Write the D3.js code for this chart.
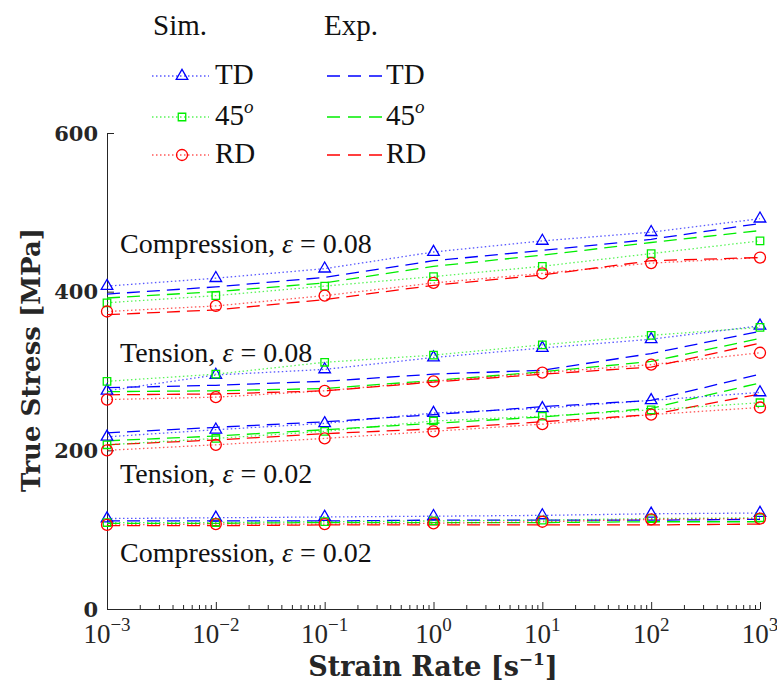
<!DOCTYPE html>
<html><head><meta charset="utf-8">
<script src="https://cdn.jsdelivr.net/npm/d3@7"></script>
<style>body{margin:0;background:#fff} svg{display:block}</style>
</head><body><svg id="c" width="777" height="689"></svg>
<script>
// ---- data ----
const strainRates = [1e-3, 1e-2, 1e-1, 1e0, 1e1, 1e2, 1e3];
const xTickExponents = [-3, -2, -1, 0, 1, 2, 3];
const yTicks = [0, 200, 400, 600];
const orientations = ["TD", "45", "RD"];

// Compression, eps = 0.08
const simTD_C08 = [407, 417, 429, 450, 464, 475, 492];
const expTD_C08 = [397, 406, 418, 439, 452, 466, 486];
const sim45_C08 = [386, 395, 407, 419, 432, 448, 464];
const exp45_C08 = [392, 400, 411, 432, 446, 462, 477];
const simRD_C08 = [375, 382, 395, 411, 423, 436, 443];
const expRD_C08 = [371, 377, 390, 408, 421, 439, 443];
// Tension, eps = 0.08
const simTD_T08 = [275, 295, 302, 317, 329, 340, 357];
const expTD_T08 = [279, 282, 287, 296, 301, 322, 350];
const sim45_T08 = [287, 296, 311, 320, 333, 345, 355];
const exp45_T08 = [274, 275, 278, 288, 299, 312, 341];
const simRD_T08 = [264, 267, 275, 287, 298, 308, 323];
const expRD_T08 = [270, 271, 275, 286, 296, 305, 335];
// Tension, eps = 0.02
const simTD_T02 = [217, 226, 234, 247, 253, 263, 273];
const expTD_T02 = [222, 229, 236, 245, 255, 263, 296];
const sim45_T02 = [207, 215, 224, 237, 243, 251, 260];
const exp45_T02 = [212, 218, 226, 234, 242, 253, 285];
const simRD_T02 = [200, 207, 215, 224, 233, 245, 254];
const expRD_T02 = [207, 213, 221, 227, 236, 245, 271];
// Compression, eps = 0.02
const simTD_C02 = [114, 115, 116, 117, 118, 120, 121];
const expTD_C02 = [111, 111, 111, 112, 112, 112, 113];
const sim45_C02 = [109, 109, 110, 111, 112, 114, 115];
const exp45_C02 = [108, 108, 109, 109, 109, 110, 110];
const simRD_C02 = [106, 107, 107, 108, 110, 113, 114];
const expRD_C02 = [105, 105, 106, 106, 106, 106, 107];

const annotations = [
  {pre: "Compression, ", post: " = 0.08", x: 1.32e-3, v: 449},
  {pre: "Tension, ", post: " = 0.08", x: 1.32e-3, v: 311},
  {pre: "Tension, ", post: " = 0.02", x: 1.32e-3, v: 159},
  {pre: "Compression, ", post: " = 0.02", x: 1.32e-3, v: 59}
];

// ---- build series ----
const simSeries = [
  {o: "TD", vals: [simTD_C08, simTD_T08, simTD_T02, simTD_C02]},
  {o: "45", vals: [sim45_C08, sim45_T08, sim45_T02, sim45_C02]},
  {o: "RD", vals: [simRD_C08, simRD_T08, simRD_T02, simRD_C02]}
];
const expSeries = [
  {o: "TD", vals: [expTD_C08, expTD_T08, expTD_T02, expTD_C02]},
  {o: "45", vals: [exp45_C08, exp45_T08, exp45_T02, exp45_C02]},
  {o: "RD", vals: [expRD_C08, expRD_T08, expRD_T02, expRD_C02]}
];
const color = {TD: "#0000ff", "45": "#00ee00", RD: "#ff0000"};
const symType = {TD: d3.symbolTriangle, "45": d3.symbolSquare, RD: d3.symbolCircle};
const symSize = {TD: 58, "45": 56, RD: 95};

const svg = d3.select("#c");
const x = d3.scaleLog().domain([1e-3, 1e3]).range([107, 760]);
const y = d3.scaleLinear().domain([0, 600]).range([609, 133]);
const serif = "'Liberation Serif', 'Times New Roman', serif";
const boldSerif = "'DejaVu Serif', serif";
const axisColor = "#262626";

// ---- axes ----
const minorTicks = [];
for (let e = -3; e < 3; e++) for (let k = 2; k <= 9; k++) minorTicks.push(k * Math.pow(10, e));

const gx = svg.append("g").attr("transform", "translate(0,609)");
gx.call(d3.axisBottom(x).tickValues(strainRates).tickSize(-7).tickSizeOuter(0).tickFormat(""));
gx.append("g").call(d3.axisBottom(x).tickValues(minorTicks).tickSize(-4).tickSizeOuter(0).tickFormat(""))
  .select(".domain").remove();
gx.selectAll("path,line").attr("stroke", axisColor).attr("stroke-width", 1);

const gy = svg.append("g").attr("transform", "translate(107,0)");
gy.call(d3.axisLeft(y).tickValues(yTicks).tickSize(-7).tickSizeOuter(0).tickFormat(""));
gy.selectAll("path,line").attr("stroke", axisColor).attr("stroke-width", 1);

// x tick labels
strainRates.forEach((r, i) => {
  const t = svg.append("text").attr("x", x(r)).attr("y", 643)
    .attr("text-anchor", "middle").attr("font-family", serif).attr("font-size", 27).attr("fill", "#262626");
  t.append("tspan").text("10");
  const ex = xTickExponents[i];
  t.append("tspan").attr("dy", -12).attr("font-size", 19).text(ex < 0 ? "\u2212" + (-ex) : String(ex));
});
// y tick labels
yTicks.forEach(v => {
  svg.append("text").attr("x", 98).attr("y", y(v)).attr("dy", "0.36em")
    .attr("text-anchor", "end").attr("font-family", boldSerif).attr("font-weight", "bold")
    .attr("font-size", 21).attr("fill", "#262626").text(v);
});
// axis titles
svg.append("text").attr("transform", "translate(40,360) rotate(-90)")
  .attr("text-anchor", "middle").attr("font-family", boldSerif).attr("font-weight", "bold")
  .attr("font-size", 26).attr("fill", "#262626").text("True Stress [MPa]");
const xl = svg.append("text").attr("x", 433).attr("y", 676).attr("text-anchor", "middle")
  .attr("font-family", boldSerif).attr("font-weight", "bold").attr("font-size", 27).attr("fill", "#262626");
xl.append("tspan").text("Strain Rate [s");
xl.append("tspan").attr("dy", -11).attr("font-size", 17).text("\u22121");
xl.append("tspan").attr("dy", 11).text("]");

// ---- lines & markers ----
const line = d3.line().x((d, i) => x(strainRates[i])).y(d => y(d));
const plot = svg.append("g");
expSeries.forEach(s => {
  s.vals.forEach(arr => {
    plot.append("path").attr("d", line(arr)).attr("fill", "none")
      .attr("stroke", color[s.o]).attr("stroke-width", 1.3).attr("stroke-dasharray", "13,7");
  });
});
simSeries.forEach(s => {
  s.vals.forEach(arr => {
    plot.append("path").attr("d", line(arr)).attr("fill", "none")
      .attr("stroke", color[s.o]).attr("stroke-opacity", 0.65).attr("stroke-width", 1.3).attr("stroke-dasharray", "1.5,2.5");
    const sym = d3.symbol().type(symType[s.o]).size(symSize[s.o]);
    plot.selectAll(null).data(arr).enter().append("path")
      .attr("d", sym)
      .attr("transform", (d, i) => `translate(${x(strainRates[i])},${y(d)})`)
      .attr("fill", "none").attr("stroke", color[s.o]).attr("stroke-width", 1.3);
  });
});

// ---- annotations ----
annotations.forEach(a => {
  const t = svg.append("text").attr("x", x(a.x)).attr("y", y(a.v))
    .attr("font-family", serif).attr("font-size", 28).attr("fill", "#111");
  t.append("tspan").text(a.pre);
  t.append("tspan").attr("font-style", "italic").text("\u03b5");
  t.append("tspan").text(a.post);
});

// ---- legend ----
const leg = svg.append("g").attr("font-family", serif).attr("font-size", 29).attr("fill", "#111");
leg.append("text").attr("x", 153).attr("y", 35).text("Sim.");
leg.append("text").attr("x", 324).attr("y", 35).text("Exp.");
const rowY = {TD: 76, "45": 117, RD: 155};
const legLabel = (g, xx, yy, o) => {
  const t = g.append("text").attr("x", xx).attr("y", yy + 8);
  if (o === "45") {
    t.append("tspan").text("45");
    t.append("tspan").attr("dy", -12).attr("font-size", 19).attr("font-style", "italic").text("o");
  } else t.text(o);
};
orientations.forEach(o => {
  const yy = rowY[o];
  leg.append("line").attr("x1", 152).attr("x2", 209).attr("y1", yy).attr("y2", yy)
    .attr("stroke", color[o]).attr("stroke-opacity", 0.65).attr("stroke-width", 1.3).attr("stroke-dasharray", "1.5,2.5");
  leg.append("path").attr("d", d3.symbol().type(symType[o]).size(symSize[o]))
    .attr("transform", `translate(182,${yy})`).attr("fill", "none").attr("stroke", color[o]).attr("stroke-width", 1.3);
  legLabel(leg, 215, yy, o);
  leg.append("line").attr("x1", 327).attr("x2", 385).attr("y1", yy).attr("y2", yy)
    .attr("stroke", color[o]).attr("stroke-width", 1.3).attr("stroke-dasharray", "13,8");
  legLabel(leg, 386, yy, o);
});
</script></body></html>
